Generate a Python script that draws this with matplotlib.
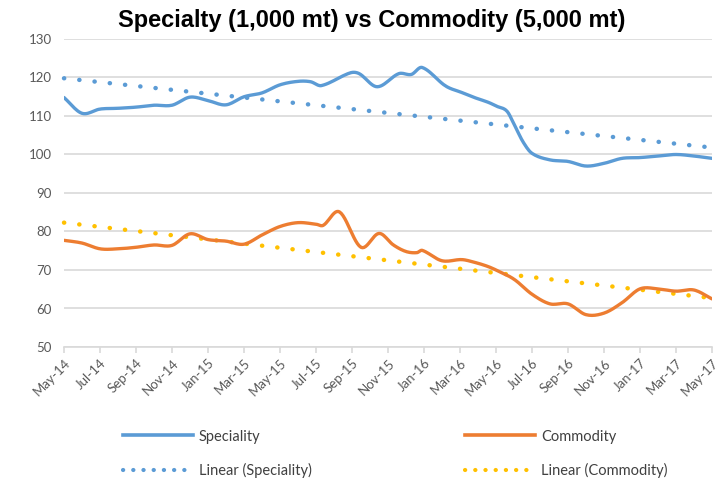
import numpy as np
import matplotlib
matplotlib.use("Agg")
import matplotlib.pyplot as plt
from matplotlib.lines import Line2D

# months counted from May-14
tick_months = list(range(0, 37, 2))
tick_labels = ["May-14", "Jul-14", "Sep-14", "Nov-14", "Jan-15", "Mar-15", "May-15",
               "Jul-15", "Sep-15", "Nov-15", "Jan-16", "Mar-16", "May-16", "Jul-16",
               "Sep-16", "Nov-16", "Jan-17", "Mar-17", "May-17"]

spec_month = [0, 1, 2, 3, 4, 5, 6, 7, 8, 9, 10, 11, 12, 13, 13.7, 14.3, 15.9, 16.4,
              17.4, 18.6, 19.3, 19.9, 21.2, 22.1, 22.8, 23.6, 24, 24.6, 25, 25.5,
              26, 27, 28, 29, 30, 31, 32, 33, 34, 35, 36]
spec_vals = [114.8, 110.7, 111.8, 112.0, 112.3, 112.8, 112.8, 114.9, 114.0, 112.9,
             115.0, 116.0, 118.1, 119.0, 118.9, 117.9, 121.2, 121.0, 117.6, 121.0,
             120.8, 122.6, 117.8, 116.1, 114.8, 113.5, 112.6, 111.3, 107.9, 103.3,
             100.3, 98.6, 98.2, 97.0, 97.7, 99.0, 99.2, 99.6, 100.0, 99.6, 99.0]

comm_month = [0, 1, 2, 3, 4, 5, 6, 7, 8, 9, 10, 11, 12, 13, 14, 14.4, 15.3, 16.5,
              17.5, 18.3, 19.0, 19.6, 19.9, 21.0, 22.1, 22.8, 23.5,
              24, 25, 26, 27, 28, 29, 30, 31, 32, 33, 34, 35, 36]
comm_vals = [77.7, 77.0, 75.5, 75.5, 75.9, 76.5, 76.4, 79.4, 77.9, 77.5, 76.7, 79.1,
             81.3, 82.3, 81.9, 81.6, 85.1, 75.9, 79.5, 76.5, 74.8, 74.5, 75.1, 72.4,
             72.7, 72.0, 71.0, 70.0, 67.6, 63.7, 61.2, 61.2, 58.4, 58.8, 61.5, 65.1,
             65.1, 64.5, 64.8, 62.5]

# linear trend lines, start and end values
spec_trend = [119.8, 101.8]
comm_trend = [82.3, 62.7]

BLUE = "#5B9BD5"
ORANGE = "#ED7D31"
YELLOW = "#FFC000"
GRAY_TXT = "#595959"


def smooth(xs, ys, n=12):
    # cubic hermite through the points, like excel's smoothed line
    xs = np.asarray(xs, float)
    ys = np.asarray(ys, float)
    m = np.zeros_like(ys)
    m[1:-1] = (ys[2:] - ys[:-2]) / (xs[2:] - xs[:-2])
    m[0] = (ys[1] - ys[0]) / (xs[1] - xs[0])
    m[-1] = (ys[-1] - ys[-2]) / (xs[-1] - xs[-2])
    out_x, out_y = [], []
    for i in range(len(xs) - 1):
        h = xs[i + 1] - xs[i]
        t = np.linspace(0, 1, n, endpoint=False)
        h00 = 2 * t**3 - 3 * t**2 + 1
        h10 = t**3 - 2 * t**2 + t
        h01 = -2 * t**3 + 3 * t**2
        h11 = t**3 - t**2
        out_x.extend(xs[i] + t * h)
        out_y.extend(h00 * ys[i] + h10 * h * m[i] + h01 * ys[i + 1] + h11 * h * m[i + 1])
    out_x.append(xs[-1])
    out_y.append(ys[-1])
    return np.array(out_x), np.array(out_y)


fig = plt.figure(figsize=(7.24, 4.8), dpi=100)
ax = fig.add_axes([64 / 724, 1 - 347 / 480, 648 / 724, 308 / 480])

dot_style = (0, (0.05, 3.4))
ax.plot([0, 36], spec_trend, color=BLUE, lw=3.2, linestyle=dot_style,
        dash_capstyle="round", clip_on=False, zorder=2)
ax.plot([0, 36], comm_trend, color=YELLOW, lw=3.2, linestyle=dot_style,
        dash_capstyle="round", clip_on=False, zorder=2)

sx, sy = smooth(spec_month, spec_vals)
cx, cy = smooth(comm_month, comm_vals)
ax.plot(sx, sy, color=BLUE, lw=2.4, solid_capstyle="round", zorder=3)
ax.plot(cx, cy, color=ORANGE, lw=2.4, solid_capstyle="round", zorder=3)

ax.set_xlim(0, 36)
ax.set_ylim(50, 130)
ax.set_yticks(range(50, 131, 10))
ax.set_xticks(tick_months)
ax.set_xticklabels(tick_labels, rotation=45, ha="right", rotation_mode="anchor")
ax.grid(axis="y", color="#D9D9D9", lw=1.2)
ax.set_axisbelow(True)
for s in ["left", "right", "top"]:
    ax.spines[s].set_visible(False)
ax.spines["bottom"].set_color("#D9D9D9")
ax.spines["bottom"].set_linewidth(1.2)
ax.tick_params(axis="y", length=0, pad=9, labelsize=9.5, labelcolor=GRAY_TXT)
ax.tick_params(axis="x", length=4, width=1.2, color="#D9D9D9", pad=3,
               labelsize=9.5, labelcolor=GRAY_TXT)
for lab in ax.get_xticklabels() + ax.get_yticklabels():
    lab.set_fontfamily("Lato")

fig.text(0.514, 0.958, "Specialty (1,000 mt) vs Commodity (5,000 mt)",
         ha="center", va="center", fontsize=17, fontweight="bold",
         family="Liberation Sans")

handles = [
    Line2D([], [], color=BLUE, lw=2.6),
    Line2D([], [], color=BLUE, lw=3.0, linestyle=(0, (0.05, 2.4)), dash_capstyle="round"),
    Line2D([], [], color=ORANGE, lw=2.6),
    Line2D([], [], color=YELLOW, lw=3.0, linestyle=(0, (0.05, 2.4)), dash_capstyle="round"),
]
labels = ["Speciality", "Linear (Speciality)", "Commodity", "Linear (Commodity)"]
leg = fig.legend(handles, labels, loc="center", bbox_to_anchor=(0.546, 0.055), ncol=2,
                 frameon=False, handlelength=4.8, handletextpad=0.4,
                 columnspacing=10.5, labelspacing=1.3,
                 prop={"family": "Lato", "size": 10.5})
for t in leg.get_texts():
    t.set_color("#404040")

fig.savefig("out.png", dpi=100)
